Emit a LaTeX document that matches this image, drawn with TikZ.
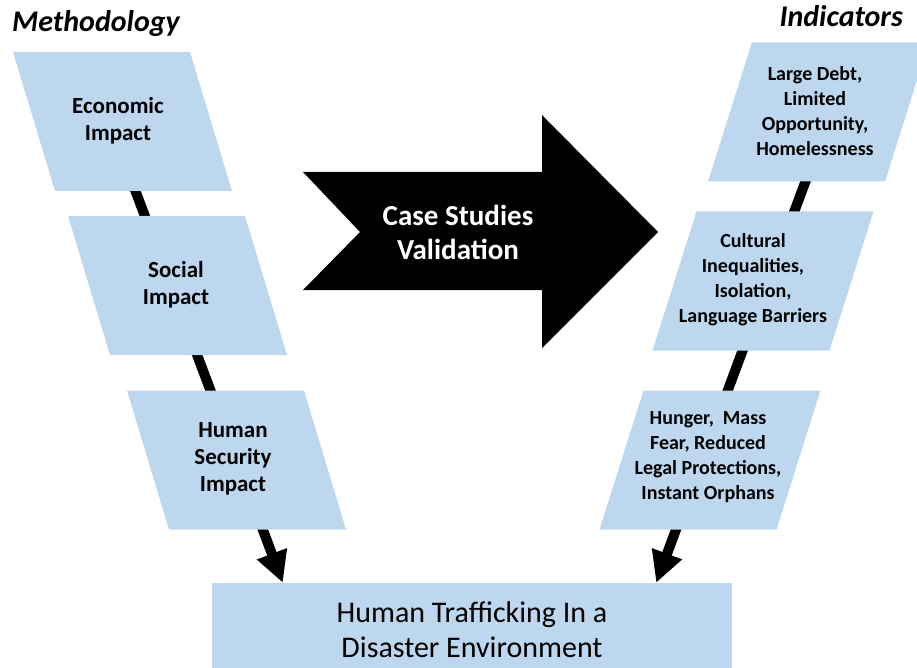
\documentclass[tikz,border=0pt]{standalone}
\usepackage{fontspec}
\setmainfont{Carlito}
\usetikzlibrary{arrows.meta,calc}
\definecolor{boxblue}{HTML}{BDD7EE}
\pgfdeclarelayer{back}
\pgfsetlayers{back,main}
\tikzset{
  pics/slab/.style={code={\fill[boxblue] ({-88.5-(#1)/2},-69.5) -- ({88.5-(#1)/2},-69.5) -- ({88.5+(#1)/2},69.5) -- ({-88.5+(#1)/2},69.5) -- cycle;}},
  ttl/.style={font=\bfseries\itshape\fontsize{30}{36}\selectfont,inner sep=0pt},
  lbox/.style={align=center,font=\bfseries\fontsize{23}{27}\selectfont,inner sep=0pt},
  rbox/.style={align=center,font=\bfseries\fontsize{20}{25}\selectfont,inner sep=0pt},
  conn/.style={line width=10pt,-{Triangle[length=31pt,width=30pt]}}
}
\begin{document}
\begin{tikzpicture}[x=1pt,y=-1pt]
\useasboundingbox (0,0) rectangle (917,668);
\node[ttl,anchor=base west](meth) at (12,32){Methodology};
\node[ttl,anchor=base east](ind) at (903,27){Indicators};
\pic at (122.5,121.5){slab=42};
\node[lbox](econ) at (118,121){Economic\\Impact};
\pic at (177.5,285.5){slab=42};
\node[lbox](social) at (176,285){Social\\Impact};
\pic at (236.5,460){slab=42};
\node[lbox](humsec) at (233,459){Human\\Security\\Impact};
\pic at (818.5,112){slab=-44};
\node[rbox](debt) at (815,111){Large Debt,\\Limited\\Opportunity,\\Homelessness};
\pic at (763,281){slab=-44};
\node[rbox](culture) at (753,280){Cultural\\Inequalities,\\Isolation,\\Language Barriers};
\pic at (710,460){slab=-44};
\node[rbox](hunger) at (708,457){Hunger,~ Mass\\Fear, Reduced\\Legal Protections,\\Instant Orphans};
\fill(303,172)--(542,172)--(542,115)--(658,232)--(542,348)--(542,290)--(303,290)--(360,232)--cycle;
\node[text=white,align=center,font=\bfseries\fontsize{29}{34}\selectfont](csv) at (458,232){Case Studies\\Validation};
\node[fill=boxblue,minimum width=520pt,minimum height=93pt,align=center,font=\fontsize{30}{35}\selectfont](hte) at (472,629.5){Human Trafficking In a\\Disaster Environment};
\begin{pgfonlayer}{back}
\draw[conn](econ.south)--($(hte.north west)+(71,0)$);
\draw[conn](debt.south)--($(hte.north east)+(-76,0)$);
\end{pgfonlayer}
\end{tikzpicture}
\end{document}
